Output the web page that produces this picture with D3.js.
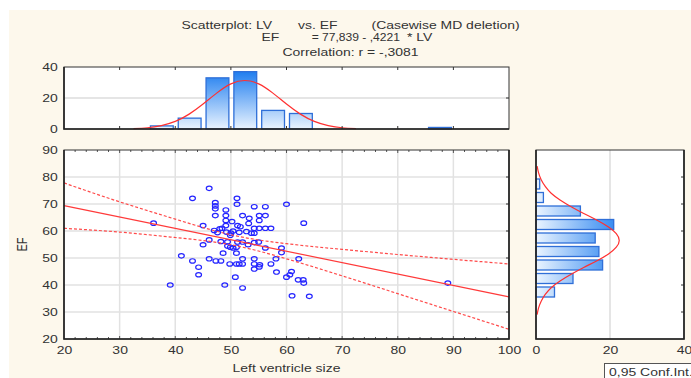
<!DOCTYPE html>
<html>
<head>
<meta charset="utf-8">
<script src="https://cdn.jsdelivr.net/npm/d3@7"></script>
<style>
  body { margin: 0; background: #fff; }
  text { font-family: "Liberation Sans", Arial, sans-serif; font-size: 11px; fill: #333; }
</style>
</head>
<body>
<div id="chart"></div>
<script>
// scatter data: left ventricle size (LV) vs EF
var lv = [36.1, 39.1, 41.1, 43.1, 43.1, 44.2, 44.2, 45.0, 45.0, 46.1, 46.1, 46.1, 47.2, 47.2, 47.2, 47.2,
  47.3, 47.0, 47.6, 48.0, 48.2, 48.2, 48.6, 48.4, 48.9, 49.1, 49.1, 49.1, 49.1, 49.2, 49.4, 49.4,
  49.8, 49.9, 49.9, 50.2, 50.4, 50.8, 51.0, 51.0, 51.0, 51.1, 51.1, 51.2, 51.2, 51.5, 51.7, 51.5,
  52.1, 52.1, 52.1, 52.1, 52.1, 52.8, 53.1, 53.2, 53.3, 53.7, 54.2, 54.2, 54.2, 54.2, 54.2, 54.2,
  54.2, 55.1, 55.1, 55.1, 55.0, 55.2, 55.1, 56.2, 56.2, 56.2, 56.2, 57.2, 57.2, 58.1, 58.2, 59.1,
  59.1, 60.0, 60.0, 60.6, 60.9, 61.0, 62.1, 62.2, 63.0, 63.1, 63.1, 64.1, 89.0, 50.4, 50.0];
var ef = [62.9, 40.0, 50.8, 72.1, 48.9, 46.6, 43.8, 62.0, 54.9, 75.8, 56.7, 49.7, 70.5, 69.3, 68.2, 65.7,
  48.9, 60.2, 59.4, 60.8, 56.1, 48.9, 51.8, 61.0, 40.0, 67.8, 65.7, 63.9, 62.0, 59.6, 56.0, 54.4,
  47.8, 58.4, 54.0, 63.5, 60.0, 42.9, 51.8, 47.8, 54.0, 72.1, 69.9, 62.0, 55.9, 47.8, 61.6, 59.5,
  65.7, 55.9, 49.7, 47.8, 38.9, 59.8, 54.9, 62.8, 64.7, 59.2, 69.0, 59.2, 61.0, 55.7, 49.7, 47.8,
  45.9, 65.7, 63.9, 61.0, 55.9, 47.5, 46.7, 69.0, 65.7, 61.0, 53.7, 61.0, 47.8, 49.7, 44.8, 53.7,
  52.0, 69.9, 42.9, 43.8, 45.0, 36.0, 41.9, 49.7, 41.9, 40.7, 62.9, 35.8, 40.7, 53.7, 59.2];

// regression EF = 77,839 - ,4221 * LV and its 0.95 confidence band
var intercept = 77.839, slope = -0.4221;
var bandLV = [20, 30, 40, 50, 60, 70, 80, 90, 100];
var bandUpper = [77.8, 70.8, 64.4, 58.6, 55.3, 53.2, 51.3, 49.5, 47.8];
var bandLower = [61.0, 59.6, 57.6, 54.9, 49.7, 43.4, 36.8, 30.2, 23.6];

// LV histogram (top)
var lvBinStart = [35, 40, 45, 50, 55, 60, 85];
var lvCounts = [2, 7, 33, 37, 12, 10, 1];
var lvCurveX = [32.5, 35, 37.5, 40, 42.5, 45, 47.5, 50, 52.5, 55, 57.5, 60, 62.5, 65, 67.5, 70, 72.5];
var lvCurveY = [0.3, 0.8, 2.2, 4.9, 9.6, 16.1, 23.3, 29.1, 31.3, 29.1, 23.3, 16.1, 9.6, 4.9, 2.2, 0.8, 0.3];

// EF histogram (right)
var efBinStart = [75, 70, 65, 60, 55, 50, 45, 40, 35];
var efCounts = [1, 2, 12, 21, 16, 17, 18, 10, 5];
var efCurveX = [29, 31.5, 34, 36.5, 39, 41.5, 44, 46.5, 49, 51.5, 54, 56.5, 59, 61.5, 64, 66.5, 69, 71.5, 74, 76.5, 79, 81.5, 84];
var efCurveY = [0.3, 0.7, 1.4, 2.5, 4.1, 6.5, 9.5, 12.9, 16.5, 19.6, 21.7, 22.5, 21.7, 19.6, 16.5, 12.9, 9.5, 6.5, 4.1, 2.5, 1.4, 0.7, 0.3];

var lvTicks = [20, 30, 40, 50, 60, 70, 80, 90, 100];
var efTicks = [20, 30, 40, 50, 60, 70, 80, 90];
var countTicks = [0, 20, 40];

var stretch = "scale(1.27,1)";

var svg = d3.select("#chart").append("svg")
  .attr("width", 691)
  .attr("height", 378);

// cream page
svg.append("rect").attr("x", 9).attr("y", 10).attr("width", 682).attr("height", 368).attr("fill", "#fdf8ec");

// scales
var x = d3.scaleLinear().domain([20, 100]).range([64, 509]);
var y = d3.scaleLinear().domain([20, 90]).range([339, 150]);
var hy = d3.scaleLinear().domain([0, 40]).range([129, 67]);
var hx = d3.scaleLinear().domain([0, 40]).range([536, 684]);

// gradients
var defs = svg.append("defs");
var gTop = defs.append("linearGradient").attr("id", "gTop")
  .attr("gradientUnits", "userSpaceOnUse")
  .attr("x1", 0).attr("x2", 0).attr("y1", hy(40)).attr("y2", hy(0));
gTop.append("stop").attr("offset", "0%").attr("stop-color", "#0f74ee");
gTop.append("stop").attr("offset", "100%").attr("stop-color", "#eaf4ff");
var gRight = defs.append("linearGradient").attr("id", "gRight")
  .attr("gradientUnits", "userSpaceOnUse")
  .attr("y1", 0).attr("y2", 0).attr("x1", hx(0)).attr("x2", hx(26));
gRight.append("stop").attr("offset", "0%").attr("stop-color", "#eaf4ff");
gRight.append("stop").attr("offset", "100%").attr("stop-color", "#0f74ee");

// title
function label(str, px, py, anchor, sx) {
  svg.append("text")
    .attr("transform", "translate(" + px + "," + py + ") scale(" + (sx || 1.27) + ",1)")
    .attr("text-anchor", anchor || "start")
    .text(str);
}
label("Scatterplot: LV", 181.5, 29);
label("vs. EF", 298, 29);
label("(Casewise MD deletion)", 371.5, 29);
label("EF", 261.5, 41);
label("= 77,839 - ,4221", 400, 41, "end", 1.1);
label("* LV", 407, 41);
label("Correlation: r = -,3081", 350.5, 56, "middle");

// ---------- top histogram ----------
svg.append("rect").attr("x", x(20)).attr("y", hy(40))
  .attr("width", x(100) - x(20)).attr("height", hy(0) - hy(40)).attr("fill", "#fff");
svg.append("line").attr("x1", x(20)).attr("x2", x(100)).attr("y1", hy(20)).attr("y2", hy(20))
  .attr("stroke", "#dcdcdc").attr("stroke-width", 1.5);

svg.append("g").selectAll("rect")
  .data(lvCounts)
  .enter()
  .append("rect")
  .attr("x", function (d, i) { return x(lvBinStart[i]) + 3 })
  .attr("width", function (d, i) { return x(lvBinStart[i] + 5) - x(lvBinStart[i]) - 5 })
  .attr("y", function (d) { return hy(d) })
  .attr("height", function (d) { return hy(0) - hy(d) })
  .attr("fill", "url(#gTop)")
  .attr("stroke", "#2f6fd8")
  .attr("stroke-width", 1.3);

svg.append("path")
  .datum(lvCurveX)
  .attr("fill", "none")
  .attr("stroke", "#ff3030")
  .attr("stroke-width", 1.2)
  .attr("d", d3.line()
    .x(function (d) { return x(d) })
    .y(function (d, i) { return hy(lvCurveY[i]) })
    .curve(d3.curveNatural));

// ticks on the frame
[30, 40, 50, 60, 70, 80, 90].forEach(function (v) {
  svg.append("line").attr("x1", x(v)).attr("x2", x(v)).attr("y1", hy(40)).attr("y2", hy(40) + 3).attr("stroke", "#333");
  svg.append("line").attr("x1", x(v)).attr("x2", x(v)).attr("y1", hy(0)).attr("y2", hy(0) - 3).attr("stroke", "#333");
});
svg.append("line").attr("x1", x(100)).attr("x2", x(100) - 3).attr("y1", hy(20)).attr("y2", hy(20)).attr("stroke", "#333");

svg.append("rect").attr("x", x(20)).attr("y", hy(40))
  .attr("width", x(100) - x(20)).attr("height", hy(0) - hy(40))
  .attr("fill", "none").attr("stroke", "#333").attr("stroke-width", 1);
svg.append("path").attr("d", "M" + x(20) + "," + hy(40) + "V" + hy(0) + "H" + x(100))
  .attr("fill", "none").attr("stroke", "#222").attr("stroke-width", 1.6);

var topAxis = svg.append("g")
  .attr("transform", "translate(" + x(20) + ",0)")
  .call(d3.axisLeft(hy).tickValues(countTicks).tickSize(0).tickPadding(5));
topAxis.select(".domain").remove();
topAxis.selectAll("text").attr("transform", stretch).style("font-size", "11px").attr("fill", "#444");

// ---------- scatterplot ----------
svg.append("rect").attr("x", x(20)).attr("y", y(90))
  .attr("width", x(100) - x(20)).attr("height", y(20) - y(90)).attr("fill", "#fff");

svg.append("g").selectAll("line")
  .data(lvTicks.slice(1, -1))
  .enter()
  .append("line")
  .attr("x1", function (d) { return x(d) })
  .attr("x2", function (d) { return x(d) })
  .attr("y1", y(90)).attr("y2", y(20))
  .attr("stroke", "#e2e2e2").attr("stroke-width", 1.5);
svg.append("g").selectAll("line")
  .data(efTicks.slice(1, -1))
  .enter()
  .append("line")
  .attr("y1", function (d) { return y(d) })
  .attr("y2", function (d) { return y(d) })
  .attr("x1", x(20)).attr("x2", x(100))
  .attr("stroke", "#e2e2e2").attr("stroke-width", 1.5);

// points
svg.append("g").selectAll("ellipse")
  .data(lv)
  .enter()
  .append("ellipse")
  .attr("cx", function (d) { return x(d) })
  .attr("cy", function (d, i) { return y(ef[i]) })
  .attr("rx", 2.9)
  .attr("ry", 2.2)
  .attr("fill", "none")
  .attr("stroke", "#2424ff")
  .attr("stroke-width", 1.2);

// regression line
svg.append("path")
  .datum([20, 100])
  .attr("fill", "none")
  .attr("stroke", "#ff3a3a")
  .attr("stroke-width", 1.2)
  .attr("d", d3.line()
    .x(function (d) { return x(d) })
    .y(function (d) { return y(intercept + slope * d) }));

// confidence band
[bandUpper, bandLower].forEach(function (band) {
  svg.append("path")
    .datum(bandLV)
    .attr("fill", "none")
    .attr("stroke", "#ff4a4a")
    .attr("stroke-width", 1.2)
    .attr("stroke-dasharray", "3,2")
    .attr("d", d3.line()
      .x(function (d) { return x(d) })
      .y(function (d, i) { return y(band[i]) })
      .curve(d3.curveNatural));
});

// minor ticks
d3.range(22, 100, 2).forEach(function (v) {
  var len = (v % 10 === 0) ? 3 : 2;
  svg.append("line").attr("x1", x(v)).attr("x2", x(v)).attr("y1", y(90)).attr("y2", y(90) + len).attr("stroke", "#555");
  svg.append("line").attr("x1", x(v)).attr("x2", x(v)).attr("y1", y(20)).attr("y2", y(20) - len).attr("stroke", "#555");
});
efTicks.slice(1, -1).forEach(function (v) {
  svg.append("line").attr("x1", x(100)).attr("x2", x(100) - 3).attr("y1", y(v)).attr("y2", y(v)).attr("stroke", "#333");
});

svg.append("rect").attr("x", x(20)).attr("y", y(90))
  .attr("width", x(100) - x(20)).attr("height", y(20) - y(90))
  .attr("fill", "none").attr("stroke", "#333").attr("stroke-width", 1);
svg.append("path").attr("d", "M" + x(20) + "," + y(90) + "V" + y(20) + "H" + x(100) + "V" + y(90))
  .attr("fill", "none").attr("stroke", "#222").attr("stroke-width", 1.6);

var xAxis = svg.append("g")
  .attr("transform", "translate(0," + y(20) + ")")
  .call(d3.axisBottom(x).tickValues(lvTicks).tickSize(0).tickPadding(7));
xAxis.select(".domain").remove();
xAxis.selectAll("text").attr("transform", stretch).style("font-size", "11px").attr("fill", "#444");

var yAxis = svg.append("g")
  .attr("transform", "translate(" + x(20) + ",0)")
  .call(d3.axisLeft(y).tickValues(efTicks).tickSize(0).tickPadding(5));
yAxis.select(".domain").remove();
yAxis.selectAll("text").attr("transform", stretch).style("font-size", "11px").attr("fill", "#444");

label("Left ventricle size", 286.5, 372, "middle");
svg.append("text")
  .attr("transform", "translate(27," + y(55) + ") rotate(-90) scale(1,1.27)")
  .attr("text-anchor", "middle")
  .text("EF");

// ---------- right histogram ----------
svg.append("rect").attr("x", hx(0)).attr("y", y(90))
  .attr("width", hx(40) - hx(0)).attr("height", y(20) - y(90)).attr("fill", "#fff");
svg.append("line").attr("x1", hx(20)).attr("x2", hx(20)).attr("y1", y(90)).attr("y2", y(20))
  .attr("stroke", "#dcdcdc").attr("stroke-width", 1.5);

svg.append("g").selectAll("rect")
  .data(efCounts)
  .enter()
  .append("rect")
  .attr("x", hx(0))
  .attr("width", function (d) { return hx(d) - hx(0) })
  .attr("y", function (d, i) { return y(efBinStart[i] + 5) + 2 })
  .attr("height", function (d, i) { return y(efBinStart[i]) - y(efBinStart[i] + 5) - 3.5 })
  .attr("fill", "url(#gRight)")
  .attr("stroke", "#2f6fd8")
  .attr("stroke-width", 1.3);

svg.append("path")
  .datum(efCurveX)
  .attr("fill", "none")
  .attr("stroke", "#ff3030")
  .attr("stroke-width", 1.2)
  .attr("d", d3.line()
    .y(function (d) { return y(d) })
    .x(function (d, i) { return hx(efCurveY[i]) })
    .curve(d3.curveNatural));

efTicks.slice(1, -1).forEach(function (v) {
  svg.append("line").attr("x1", hx(40)).attr("x2", hx(40) - 3).attr("y1", y(v)).attr("y2", y(v)).attr("stroke", "#333");
});

svg.append("rect").attr("x", hx(0)).attr("y", y(90))
  .attr("width", hx(40) - hx(0)).attr("height", y(20) - y(90))
  .attr("fill", "none").attr("stroke", "#333").attr("stroke-width", 1);
svg.append("path").attr("d", "M" + hx(0) + "," + y(90) + "V" + y(20) + "H" + hx(40) + "V" + y(90))
  .attr("fill", "none").attr("stroke", "#222").attr("stroke-width", 1.6);

var hAxis = svg.append("g")
  .attr("transform", "translate(0," + y(20) + ")")
  .call(d3.axisBottom(hx).tickValues(countTicks).tickSize(0).tickPadding(7));
hAxis.select(".domain").remove();
hAxis.selectAll("text").attr("transform", stretch).style("font-size", "11px").attr("fill", "#444");

// legend box (cut by the page edge, as in the source)
svg.append("rect").attr("x", 604.5).attr("y", 363.5).attr("width", 110).attr("height", 20)
  .attr("fill", "#fff").attr("stroke", "#555");
label("0,95 Conf.Int.", 609, 376);
</script>
</body>
</html>
